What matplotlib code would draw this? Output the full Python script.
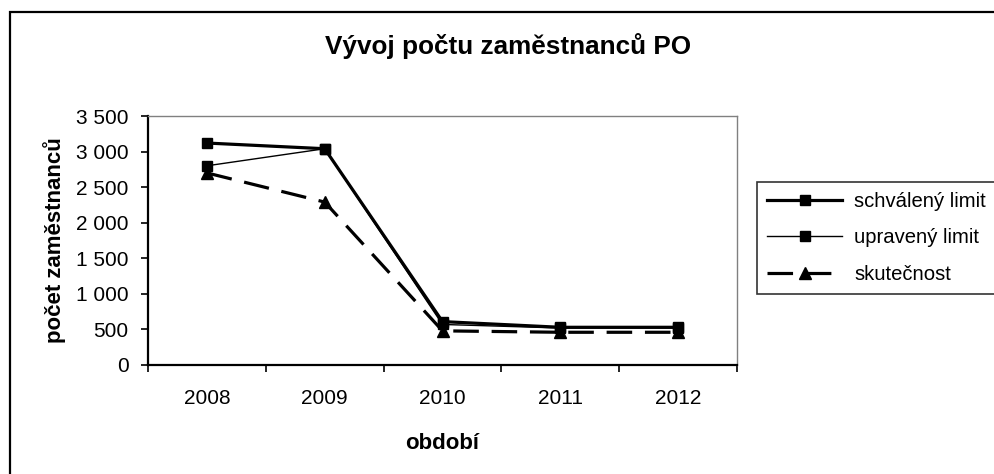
import matplotlib
matplotlib.use("Agg")
import matplotlib.pyplot as plt
from matplotlib.patches import Rectangle
from matplotlib.ticker import FuncFormatter, FixedLocator, NullFormatter

plt.rcParams['font.family'] = ['Liberation Sans', 'DejaVu Sans']

years = ['2008', '2009', '2010', '2011', '2012']
schvaleny = [3120, 3040, 610, 530, 530]
upraveny = [2800, 3040, 570, 520, 520]
skutecnost = [2700, 2290, 480, 460, 460]

W, H = 994, 474
fig = plt.figure(figsize=(W / 100, H / 100), dpi=100)

# outer chart frame
fig.patches.append(Rectangle((10 / W, -0.1), 1.2, 1 - 12 / H + 0.1, transform=fig.transFigure,
                             fill=False, edgecolor='black', linewidth=1.6, clip_on=False))

ax = fig.add_axes([148 / W, 1 - 365 / H, (737 - 148) / W, (365 - 116) / H])

x = list(range(len(years)))
ax.plot(x, schvaleny, color='black', lw=2.3, marker='s', ms=7.5, label='schválený limit')
ax.plot(x, upraveny, color='black', lw=1.0, marker='s', ms=7.5, label='upravený limit')
ax.plot(x, skutecnost, color='black', lw=2.3, marker='^', ms=8.5, dashes=(8, 4), label='skutečnost')

ax.set_xlim(-0.5, len(years) - 0.5)
ax.set_ylim(0, 3500)
ax.set_yticks(range(0, 3501, 500))
ax.yaxis.set_major_formatter(FuncFormatter(lambda v, p: f"{int(v):,}".replace(",", " ")))

ax.xaxis.set_major_locator(FixedLocator([i - 0.5 for i in range(len(years) + 1)]))
ax.xaxis.set_major_formatter(NullFormatter())
ax.xaxis.set_minor_locator(FixedLocator(x))
ax.set_xticklabels(years, minor=True)
ax.tick_params(axis='x', which='minor', length=0, pad=17, labelsize=15)
ax.tick_params(axis='x', which='major', length=5, width=1.2)
ax.tick_params(axis='y', length=5, width=1.2, labelsize=15, pad=9)

for s in ['left', 'bottom']:
    ax.spines[s].set_linewidth(1.6)
    ax.spines[s].set_color('black')
for s in ['top', 'right']:
    ax.spines[s].set_linewidth(1.0)
    ax.spines[s].set_color('#808080')

ax.set_xlabel('období', fontsize=16, fontweight='bold', labelpad=18)
ax.set_ylabel('počet zaměstnanců', fontsize=16, fontweight='bold', labelpad=7)

fig.text(508 / W, 1 - 46 / H, 'Vývoj počtu zaměstnanců PO', ha='center', va='center',
         fontsize=18.8, fontweight='bold')

leg = ax.legend(loc='upper left', bbox_to_anchor=(757 / W, 1 - 296 / H, 0.3, 114 / H),
                bbox_transform=fig.transFigure, mode='expand',
                fontsize=14.6, frameon=True, fancybox=False, edgecolor='black', handlelength=3.7,
                handletextpad=0.6, borderaxespad=0, labelspacing=0.85, borderpad=0.5)
leg.get_frame().set_linewidth(1.2)

fig.savefig('out.png', dpi=100)
